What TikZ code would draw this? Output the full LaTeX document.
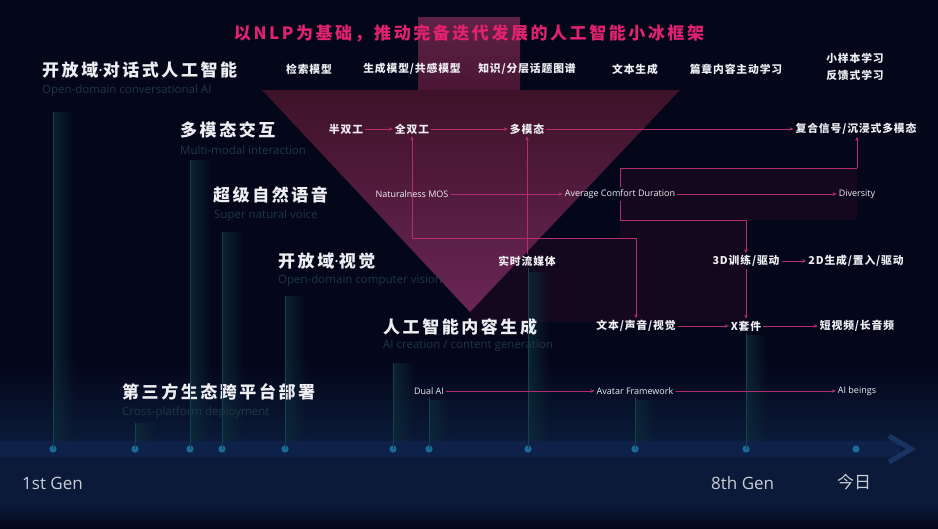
\documentclass[tikz,border=0pt]{standalone}
\usepackage{fontspec}
\newfontfamily\cjk{Noto Sans CJK SC}
\newfontfamily\cjkt{Noto Sans CJK SC}[LetterSpace=15]
\newfontfamily\cjki{Noto Sans CJK SC}[LetterSpace=8]
\newfontfamily\lat{Open Sans}
\usetikzlibrary{arrows.meta,fadings}
\tikzfading[name=fadeR, left color=transparent!20, right color=transparent!100]
\definecolor{bgc}{HTML}{04061A}
\definecolor{lowc}{HTML}{0A1A38}
\definecolor{bandc}{HTML}{0E2249}
\definecolor{chevc}{HTML}{1A3362}
\definecolor{dotc}{HTML}{1B6A98}
\definecolor{vlc}{HTML}{15404F}
\definecolor{glowc}{HTML}{0E2A38}
\definecolor{connc}{HTML}{B42E6C}
\definecolor{titlec}{HTML}{E0226F}
\definecolor{txtc}{HTML}{EEEEF2}
\definecolor{subc}{HTML}{1F3747}
\definecolor{genc}{HTML}{C9CDD6}
\definecolor{triA}{HTML}{3E1229}
\definecolor{triB}{HTML}{6A2656}
\definecolor{shaftA}{HTML}{5E2246}
\definecolor{shaftB}{HTML}{4A1634}
\definecolor{maroon}{HTML}{14081E}
\begin{document}
\begin{tikzpicture}[x=1pt,y=-1pt,
  rowt/.style={anchor=west, inner sep=0pt, text=txtc, font=\cjkt\bfseries\fontsize{17}{20}\selectfont},
  rows/.style={anchor=west, inner sep=0pt, text=subc, font=\lat\fontsize{11.5}{13}\selectfont},
  item/.style={inner sep=2pt, text=txtc, font=\cjki\bfseries\fontsize{10.8}{13}\selectfont},
  litem/.style={inner sep=2pt, text=txtc, font=\lat\fontsize{9}{11}\selectfont},
  conn/.style={draw=connc, line width=0.8pt, -{Stealth[length=4pt,width=3.5pt]}},
  link/.style={draw=connc, line width=0.8pt},
  vline/.style={draw=vlc, line width=1pt},
  glow/.style={fill=glowc, path fading=fadeR},
  gentxt/.style={anchor=west, inner sep=0pt, text=genc, font=\lat\fontsize{17}{20}\selectfont},
  dot/.style={fill=dotc}
]
\useasboundingbox (0,0) rectangle (938,528);
% background
\fill[bgc] (0,0) rectangle (938,528);
\shade[top color=bgc, bottom color=lowc] (0,360) rectangle (938,441);
\fill[lowc] (0,441) rectangle (938,505);
\shade[top color=lowc, bottom color=bgc] (0,505) rectangle (938,528);
% maroon tinted regions
\fill[maroon] (620,168) rectangle (857,220);
\fill[maroon] (470,238) rectangle (636,322);
\fill[maroon] (620,220) rectangle (746,322);
% arrow shape (shaft + head)
\shade[top color=shaftA, bottom color=shaftB] (418,17) rectangle (520,90);
\shade[top color=triA, bottom color=triB] (262,90) -- (680,90) -- (470,312) -- cycle;
% glows beside vertical lines
\foreach \x/\t in {53/112,135/423,190/160,222/232,285/296,393/363,429/400,528/272,635/400,746/335}{
  \path[glow] (\x,\t) rectangle (\x+22,441);
}
% timeline band
\fill[bandc] (0,441) rectangle (900,457);
\draw[chevc, line width=5pt] (889,436) -- (911,449) -- (889,462);
% dots
\foreach \n/\x in {1/53,2/135,3/190,4/222,5/285,6/393,7/429,8/528,9/635,10/746,11/856}{
  \coordinate (d\n) at (\x,449);
  \fill[dot] (d\n) circle (3.6pt);
}
% title
\node[text=titlec, font=\cjkt\bfseries\fontsize{17}{20}\selectfont, inner sep=0pt] (title) at (469,33) {以NLP为基础，推动完备迭代发展的人工智能小冰框架};
% row titles and subtitles
\node[rowt] (t1) at (42,70) {开放域{\lat\mdseries·}对话式人工智能};
\node[rows] (s1) at (42,91) {Open-domain conversational AI};
\node[rowt] (t2) at (180,130) {多模态交互};
\node[rows] (s2) at (180,150) {Multi-modal interaction};
\node[rowt] (t3) at (213,195) {超级自然语音};
\node[rows] (s3) at (214,216) {Super natural voice};
\node[rowt] (t4) at (278,261) {开放域{\lat\mdseries·}视觉};
\node[rows] (s4) at (278,281) {Open-domain computer vision};
\node[rowt] (t5) at (383,327) {人工智能内容生成};
\node[rows] (s5) at (383,346) {AI creation / content generation};
\node[rowt] (t6) at (122,392) {第三方生态跨平台部署};
\node[rows] (s6) at (122,412) {Cross-platform deployment};
% row 1 items
\node[item] (i11) at (309,69) {检索模型};
\node[item] (i12) at (412,69) {生成模型/共感模型};
\node[item] (i13) at (527,69) {知识/分层话题图谱};
\node[item] (i14) at (635,69) {文本生成};
\node[item] (i15) at (736,69) {篇章内容主动学习};
\node[item, align=center, font=\cjki\bfseries\fontsize{10.8}{17}\selectfont] (i16) at (855,67) {小样本学习\\反馈式学习};
% row 2 items
\node[item] (i21) at (346,129) {半双工};
\node[item] (i22) at (412,129) {全双工};
\node[item] (i23) at (527,129) {多模态};
\node[item] (i24) at (856,129) {复合信号/沉浸式多模态};
% row 3 items
\node[litem] (i31) at (412,194) {Naturalness MOS};
\node[litem] (i32) at (620,194) {Average Comfort Duration};
\node[litem] (i33) at (857,194) {Diversity};
% row 4 items
\node[item] (i41) at (527,261) {实时流媒体};
\node[item] (i42) at (746,261) {3D训练/驱动};
\node[item] (i43) at (856,261) {2D生成/置入/驱动};
% row 5 items
\node[item] (i51) at (636,326) {文本/声音/视觉};
\node[item] (i52) at (746,326) {X套件};
\node[item] (i53) at (857,326) {短视频/长音频};
% row 6 items
\node[litem] (i61) at (429,391) {Dual AI};
\node[litem] (i62) at (635,391) {Avatar Framework};
\node[litem] (i63) at (857,391) {AI beings};
% vertical timeline lines
\coordinate (v1) at (53,112);
\coordinate (v2) at (135,423);
\coordinate (v3) at (190,160);
\coordinate (v4) at (222,232);
\coordinate (v5) at (285,296);
\coordinate (v6) at (393,363);
\draw[vline] (v1) -- (d1);
\draw[vline] (v2) -- (d2);
\draw[vline] (v3) -- (d3);
\draw[vline] (v4) -- (d4);
\draw[vline] (v5) -- (d5);
\draw[vline] (v6) -- (d6);
\draw[vline] (i61.south -| d7) -- (d7);
\draw[vline] (i41.south -| d8) -- (d8);
\draw[vline] (i62.south -| d9) -- (d9);
\draw[vline] (i52.south -| d10) -- (d10);
% horizontal connectors
\draw[conn] (i21.east) -- (i22.west);
\draw[conn] (i22.east) -- (i23.west);
\draw[conn] (i23.east) -- (i24.west);
\draw[conn] (i31.east) -- (i32.west);
\draw[conn] (i32.east) -- (i33.west);
\draw[conn] (i42.east) -- (i43.west);
\draw[conn] (i51.east) -- (i52.west);
\draw[conn] (i52.east) -- (i53.west);
\draw[conn] (i61.east) -- (i62.west);
\draw[conn] (i62.east) -- (i63.west);
% tree from real-time streaming
\coordinate (ja) at (412,238);
\coordinate (jb) at (636,238);
\draw[link] (ja) -- (jb);
\draw[conn] (ja) -- (ja |- i22.south);
\draw[conn] (i41.north) -- (i23.south);
\draw[conn] (jb) -- (jb |- i51.north);
% tree from average comfort duration
\coordinate (jc) at (620,168);
\coordinate (jd) at (857,168);
\coordinate (je) at (620,220);
\coordinate (jf) at (746,220);
\draw[link] (i32.north) -- (jc) -- (jd);
\draw[conn] (jd) -- (jd |- i24.south);
\draw[link] (i32.south) -- (je) -- (jf);
\draw[conn] (jf) -- (jf |- i42.north);
\draw[conn] (i42.south) -- (i52.north);
% bottom labels
\node[gentxt] (g1) at (22,483) {1st Gen};
\node[gentxt] (g8) at (711,483) {8th Gen};
\node[gentxt, font=\cjk\fontsize{17}{20}\selectfont] (today) at (837,482) {今日};
\end{tikzpicture}
\end{document}
